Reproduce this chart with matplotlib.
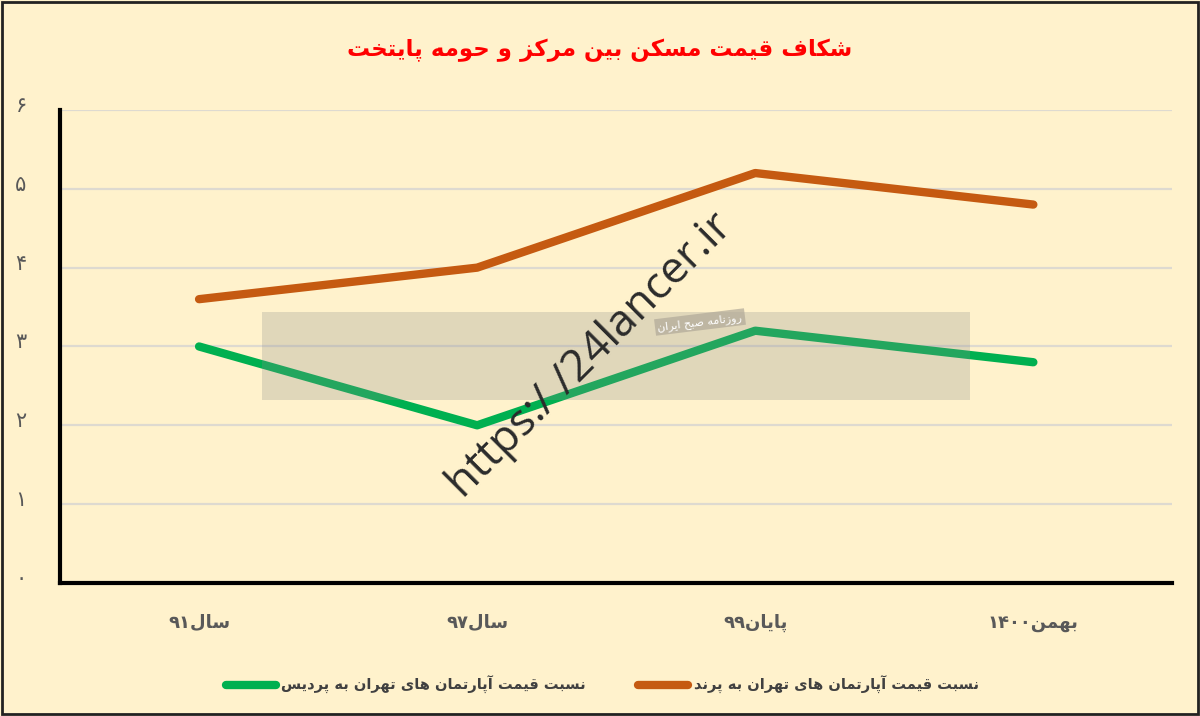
import matplotlib
matplotlib.use("Agg")
import matplotlib.pyplot as plt
import matplotlib.transforms as mtransforms
from matplotlib.patches import Rectangle

# ─────────────────────────────────────────
# DATA
# ─────────────────────────────────────────
categories = ["سال۹۱", "سال۹۷", "پایان۹۹", "بهمن۱۴۰۰"]
pardis = [3.0, 2.0, 3.2, 2.8]   # Tehran / Pardis
parand = [3.6, 4.0, 5.2, 4.8]   # Tehran / Parand
y_ticks = [0, 1, 2, 3, 4, 5, 6]
y_tick_labels = ["۰", "۱", "۲", "۳", "۴", "۵", "۶"]

title = "شکاف قیمت مسکن بین مرکز و حومه پایتخت"
label_pardis = "نسبت قیمت آپارتمان های تهران به پردیس"
label_parand = "نسبت قیمت آپارتمان های تهران به پرند"
watermark_url = "https:/ /24lancer.ir"
watermark_tag = "روزنامه صبح ایران"

# ─────────────────────────────────────────
# tiny persian shaper (no arabic_reshaper / bidi available)
# forms: isolated, final, initial, medial
# ─────────────────────────────────────────
FORMS = {
    "ا": ("\uFE8D", "\uFE8E", None, None),
    "آ": ("\uFE81", "\uFE82", None, None),
    "ب": ("\uFE8F", "\uFE90", "\uFE91", "\uFE92"),
    "پ": ("\uFB56", "\uFB57", "\uFB58", "\uFB59"),
    "ت": ("\uFE95", "\uFE96", "\uFE97", "\uFE98"),
    "ح": ("\uFEA1", "\uFEA2", "\uFEA3", "\uFEA4"),
    "خ": ("\uFEA5", "\uFEA6", "\uFEA7", "\uFEA8"),
    "د": ("\uFEA9", "\uFEAA", None, None),
    "ر": ("\uFEAD", "\uFEAE", None, None),
    "ز": ("\uFEAF", "\uFEB0", None, None),
    "س": ("\uFEB1", "\uFEB2", "\uFEB3", "\uFEB4"),
    "ش": ("\uFEB5", "\uFEB6", "\uFEB7", "\uFEB8"),
    "ص": ("\uFEB9", "\uFEBA", "\uFEBB", "\uFEBC"),
    "ف": ("\uFED1", "\uFED2", "\uFED3", "\uFED4"),
    "ق": ("\uFED5", "\uFED6", "\uFED7", "\uFED8"),
    "ک": ("\uFB8E", "\uFB8F", "\uFB90", "\uFB91"),
    "ل": ("\uFEDD", "\uFEDE", "\uFEDF", "\uFEE0"),
    "م": ("\uFEE1", "\uFEE2", "\uFEE3", "\uFEE4"),
    "ن": ("\uFEE5", "\uFEE6", "\uFEE7", "\uFEE8"),
    "ه": ("\uFEE9", "\uFEEA", "\uFEEB", "\uFEEC"),
    "و": ("\uFEED", "\uFEEE", None, None),
    "ی": ("\uFBFC", "\uFBFD", "\uFBFE", "\uFBFF"),
}


def dual(ch):
    return ch in FORMS and FORMS[ch][2] is not None


def shape(text):
    out = []
    for i, ch in enumerate(text):
        if ch not in FORMS:
            out.append(ch)
            continue
        prev_c = i > 0 and dual(text[i - 1])
        next_c = dual(ch) and i + 1 < len(text) and text[i + 1] in FORMS
        f = FORMS[ch]
        if prev_c and next_c:
            out.append(f[3])
        elif prev_c:
            out.append(f[1])
        elif next_c:
            out.append(f[2])
        else:
            out.append(f[0])
    s = "".join(out)
    # visual order: reverse runs, keep digit runs left-to-right
    runs, cur, cur_digit = [], "", None
    for ch in s:
        is_d = ch.isdigit()
        if cur and is_d != cur_digit:
            runs.append((cur, cur_digit))
            cur = ""
        cur += ch
        cur_digit = is_d
    if cur:
        runs.append((cur, cur_digit))
    return "".join(r if d else r[::-1] for r, d in reversed(runs))


# ─────────────────────────────────────────
# PLOT
# ─────────────────────────────────────────
plt.rcParams["font.family"] = ["DejaVu Sans"]
bg = "#FFF2CC"
green = "#00B050"
orange = "#C55A11"

fig = plt.figure(figsize=(12, 7.16), dpi=100, facecolor=bg)
ax = fig.add_axes([0.05, 0.1858, 0.927, 0.6606], facecolor=bg)

x = list(range(len(categories)))
ax.plot(x, pardis, color=green, lw=6, solid_capstyle="round",
        solid_joinstyle="round", label=shape(label_pardis), zorder=3)
ax.plot(x, parand, color=orange, lw=6, solid_capstyle="round",
        solid_joinstyle="round", label=shape(label_parand), zorder=3)

ax.set_xlim(-0.5, 3.5)
ax.set_ylim(0, 6)
ax.set_yticks(y_ticks)
ax.set_yticklabels(y_tick_labels, fontsize=15, color="#595959")
ax.set_xticks(x)
ax.set_xticklabels([shape(c) for c in categories], fontsize=13,
                   fontweight="bold", color="#595959")
ax.tick_params(axis="y", length=0, pad=24)
ax.tick_params(axis="x", length=0, pad=22)
offset = mtransforms.ScaledTranslation(0, 6 / 100, fig.dpi_scale_trans)
for lab in ax.get_yticklabels():
    lab.set_transform(lab.get_transform() + offset)

ax.grid(axis="y", color="#DEDAD0", lw=1.6, zorder=0)
ax.set_axisbelow(True)
for side in ["top", "right"]:
    ax.spines[side].set_visible(False)
for side in ["left", "bottom"]:
    ax.spines[side].set_color("black")
    ax.spines[side].set_linewidth(3)

fig.text(0.5, 0.93, shape(title), ha="center", va="center", fontsize=16.5,
         fontweight="bold", color="#FF0000")

leg = fig.legend(loc="center", bbox_to_anchor=(0.502, 0.043), ncol=2,
                 frameon=False, handlelength=3.4, handletextpad=0.4,
                 columnspacing=3.6, prop={"size": 10.5, "weight": "bold"})
for t in leg.get_texts():
    t.set_color("#404040")

# watermark
fig.patches.append(Rectangle((262 / 1200, 1 - 400 / 716), 708 / 1200, 88 / 716,
                             transform=fig.transFigure, facecolor="#8a8a8a",
                             alpha=0.26, edgecolor="none", zorder=5))
fig.text(700 / 1200, 1 - 322 / 716, shape(watermark_tag), rotation=7,
         ha="center", va="center", fontsize=8, color="white", zorder=6,
         bbox=dict(facecolor="#b0a898", edgecolor="none", alpha=0.7, pad=2))
fig.text(0.492, 0.503, watermark_url, rotation=45, rotation_mode="anchor",
         ha="center", va="center", fontsize=32, color="#2b2b2b",
         family="Open Sans", zorder=6)

# outer frame
fig.patches.append(Rectangle((0.002, 0.003), 0.996, 0.994, transform=fig.transFigure,
                             fill=False, edgecolor="#222222", lw=2, zorder=10))

fig.savefig("out.png", dpi=100, facecolor=bg)
